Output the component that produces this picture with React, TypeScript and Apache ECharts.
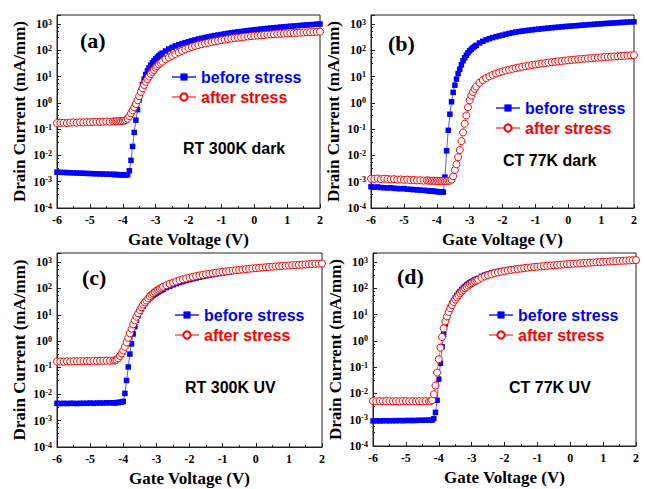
import React, { useEffect, useRef } from 'react';
import * as echarts from 'echarts';

// Gate voltage sweep (V)
const VG_OFF = [-6.0, -5.9, -5.8, -5.7, -5.6, -5.5, -5.4, -5.3, -5.2, -5.1, -5.0, -4.9, -4.8, -4.7, -4.6, -4.5, -4.4, -4.3];
const VG_MID = [-4.25, -4.2, -4.15, -4.1, -4.05, -4.0, -3.95, -3.9, -3.85, -3.8, -3.75, -3.7, -3.65, -3.6, -3.55, -3.5, -3.45, -3.4, -3.35, -3.3, -3.25, -3.2, -3.15, -3.1, -3.05, -3.0, -2.95, -2.9, -2.85, -2.8];
const VG_ON = [-2.7, -2.6, -2.5, -2.4, -2.3, -2.2, -2.1, -2.0, -1.9, -1.8, -1.7, -1.6, -1.5, -1.4, -1.3, -1.2, -1.1, -1.0, -0.9, -0.8, -0.7, -0.6, -0.5, -0.4, -0.3, -0.2, -0.1, 0.0, 0.1, 0.2, 0.3, 0.4, 0.5, 0.6, 0.7, 0.8, 0.9, 1.0, 1.1, 1.2, 1.3, 1.4, 1.5, 1.6, 1.7, 1.8, 1.9, 2.0];
const VG = [...VG_OFF, ...VG_MID, ...VG_ON];

// Drain current (mA/mm)
// (a) RT 300K dark
const aBefore = [
  2.3e-3, 2.28e-3, 2.25e-3, 2.22e-3, 2.2e-3, 2.17e-3, 2.14e-3, 2.12e-3, 2.1e-3, 2.07e-3, 2.05e-3, 2.02e-3, 2.0e-3, 1.98e-3, 1.96e-3, 1.94e-3, 1.92e-3, 1.9e-3,
  1.88e-3, 1.87e-3, 1.86e-3, 1.85e-3, 1.84e-3, 1.83e-3, 1.82e-3, 1.8e-3, 1.85e-3, 2.6e-3, 6.5e-3, 2.2e-2, 7.5e-2, 0.22, 0.55, 1.3, 2.8, 5, 8, 12, 16.5, 21.5, 27, 33, 40, 47, 54, 62, 70, 78,
  94, 112, 129, 146, 163, 179, 195, 211, 230, 249, 268, 287, 306, 325, 344, 363, 382, 400, 421, 440, 461, 480, 500, 521, 540, 560, 581, 600, 620, 641, 660, 680, 701, 720, 740, 761, 780, 800, 820, 841, 860, 880, 901, 920, 940, 960, 980, 1000,
];
const aAfter = [
  0.17, 0.172, 0.175, 0.17, 0.178, 0.18, 0.176, 0.182, 0.18, 0.185, 0.183, 0.187, 0.19, 0.188, 0.192, 0.195, 0.19, 0.196,
  0.195, 0.198, 0.2, 0.2, 0.2, 0.205, 0.21, 0.22, 0.25, 0.31, 0.4, 0.52, 0.68, 0.9, 1.25, 1.8, 2.6, 3.6, 4.8, 6.3, 8, 10, 12.5, 15, 18, 21.5, 25, 29, 33, 37,
  45, 53, 62, 72, 83, 95, 108, 120, 133, 146, 158, 170, 182, 194, 206, 218, 230, 242, 254, 266, 278, 290, 301, 312, 323, 334, 345, 355, 364, 373, 382, 391, 400, 408, 416, 424, 432, 440, 447, 454, 461, 468, 475, 482, 489, 496, 503, 510,
];
// (b) CT 77K dark
const bBefore = [
  6.4e-4, 6.2e-4, 6.3e-4, 6.0e-4, 5.9e-4, 5.8e-4, 5.9e-4, 5.6e-4, 5.5e-4, 5.4e-4, 5.5e-4, 5.2e-4, 5.1e-4, 5.0e-4, 4.9e-4, 4.8e-4, 4.7e-4, 4.6e-4,
  4.5e-4, 4.5e-4, 4.4e-4, 4.3e-4, 4.3e-4, 4.2e-4, 4.2e-4, 4.1e-4, 4.1e-4, 4.0e-4, 1.5e-3, 1.5e-2, 9e-2, 0.37, 1.1, 2.5, 4.7, 8, 13, 19, 28, 40, 52, 65, 80, 95, 110, 125, 140, 155,
  190, 220, 250, 277, 303, 328, 353, 378, 408, 436, 464, 492, 518, 538, 558, 579, 600, 620, 640, 660, 680, 700, 720, 740, 760, 780, 800, 820, 840, 860, 880, 900, 920, 940, 960, 980, 1000, 1020, 1040, 1060, 1080, 1100, 1120, 1140, 1160, 1180, 1200, 1220,
];
const bAfter = [
  1.3e-3, 1.28e-3, 1.32e-3, 1.25e-3, 1.3e-3, 1.27e-3, 1.22e-3, 1.25e-3, 1.2e-3, 1.22e-3, 1.18e-3, 1.2e-3, 1.15e-3, 1.17e-3, 1.12e-3, 1.14e-3, 1.1e-3, 1.12e-3,
  1.1e-3, 1.1e-3, 1.08e-3, 1.1e-3, 1.07e-3, 1.08e-3, 1.06e-3, 1.07e-3, 1.05e-3, 1.06e-3, 1.05e-3, 1.06e-3, 1.08e-3, 1.1e-3, 1.2e-3, 1.6e-3, 2.8e-3, 4.6e-3, 8.5e-3, 1.6e-2, 3.5e-2, 7.5e-2, 0.16, 0.33, 0.68, 1.25, 1.9, 2.6, 3.4, 4.2,
  5.8, 7.3, 8.8, 10.2, 11.6, 13, 14.3, 15.6, 17, 18.3, 19.6, 20.9, 22.2, 23.5, 24.8, 26.1, 27.4, 28.7, 30, 31.3, 32.6, 33.9, 35.2, 36.5, 37.8, 39.1, 40.4, 41.7, 43, 44.2, 45.4, 46.6, 47.8, 49, 50.2, 51.4, 52.6, 53.8, 55, 56.1, 57.2, 58.3, 59.4, 60.5, 61.6, 62.7, 63.8, 65,
];
// (c) RT 300K UV
const cBefore = [
  4.5e-3, 4.4e-3, 4.5e-3, 4.4e-3, 4.5e-3, 4.5e-3, 4.4e-3, 4.5e-3, 4.5e-3, 4.5e-3, 4.6e-3, 4.5e-3, 4.6e-3, 4.6e-3, 4.6e-3, 4.7e-3, 4.7e-3, 4.7e-3,
  4.7e-3, 4.8e-3, 4.8e-3, 4.9e-3, 5.0e-3, 5.3e-3, 1.07e-2, 3.3e-2, 0.107, 0.33, 0.8, 1.9, 3.6, 6.3, 9.5, 13, 17, 21.5, 26.5, 32, 37.5, 43, 49, 55, 61, 67, 73, 80, 87, 94,
  108, 122, 137, 152, 167, 183, 199, 215, 232, 249, 266, 283, 300, 318, 336, 354, 372, 390, 408, 426, 444, 462, 480, 498, 515, 532, 549, 566, 583, 600, 616, 632, 648, 664, 680, 695, 710, 725, 740, 755, 770, 785, 800, 815, 830, 845, 860, 875,
];
const cAfter = [
  0.17, 0.172, 0.17, 0.175, 0.173, 0.176, 0.175, 0.178, 0.177, 0.18, 0.178, 0.181, 0.18, 0.183, 0.182, 0.185, 0.184, 0.187,
  0.19, 0.2, 0.23, 0.28, 0.35, 0.45, 0.62, 0.9, 1.35, 2.0, 3.0, 4.4, 6.2, 8.5, 11.5, 15, 19.5, 24.5, 29.5, 35, 42, 50, 58, 66, 74, 82, 90, 98, 107, 116,
  133, 150, 168, 186, 204, 222, 240, 258, 276, 293, 310, 327, 344, 361, 378, 395, 412, 428, 444, 460, 476, 492, 508, 524, 540, 556, 572, 588, 604, 620, 636, 651, 666, 681, 696, 711, 726, 740, 754, 768, 782, 796, 810, 824, 838, 852, 866, 880,
];
// (d) CT 77K UV
const dBefore = [
  9.0e-4, 9.1e-4, 9.0e-4, 9.1e-4, 9.2e-4, 9.1e-4, 9.2e-4, 9.2e-4, 9.3e-4, 9.2e-4, 9.3e-4, 9.4e-4, 9.3e-4, 9.4e-4, 9.5e-4, 9.5e-4, 9.6e-4, 9.6e-4,
  9.7e-4, 9.8e-4, 1.1e-3, 1.9e-3, 5.5e-3, 3.5e-2, 0.14, 0.6, 1.8, 4.4, 8, 13, 19, 26, 34, 43, 53, 64, 76, 89, 103, 118, 133, 148, 163, 178, 193, 208, 223, 238,
  285, 318, 350, 380, 408, 435, 460, 484, 507, 529, 550, 571, 591, 611, 630, 649, 667, 685, 703, 720, 737, 754, 771, 787, 803, 819, 835, 851, 867, 882, 897, 912, 927, 942, 957, 972, 987, 1002, 1017, 1032, 1047, 1062, 1077, 1092, 1107, 1122, 1137, 1152,
];
const dAfter = [
  5.1e-3, 5.0e-3, 5.1e-3, 5.0e-3, 5.1e-3, 5.1e-3, 5.0e-3, 5.1e-3, 5.0e-3, 5.1e-3, 5.1e-3, 5.0e-3, 5.1e-3, 5.0e-3, 5.1e-3, 5.0e-3, 5.1e-3, 5.0e-3,
  5.1e-3, 5.5e-3, 9.3e-3, 2.0e-2, 6.2e-2, 0.2, 0.55, 1.4, 3.0, 5.5, 8.5, 12.5, 17.5, 23, 30, 37, 45, 54, 64, 75, 87, 100, 113, 127, 141, 155, 169, 183, 197, 211,
  250, 282, 313, 343, 372, 400, 427, 452, 476, 499, 521, 542, 563, 583, 603, 623, 642, 661, 680, 699, 717, 735, 753, 771, 789, 807, 825, 843, 860, 877, 894, 911, 928, 945, 962, 979, 996, 1013, 1030, 1047, 1064, 1081, 1098, 1115, 1132, 1149, 1166, 1183,
];

const PANEL_LABELS = ['(a)', '(b)', '(c)', '(d)'];
const CONDITIONS = ['RT 300K dark', 'CT 77K dark', 'RT 300K UV', 'CT 77K UV'];
const BEFORE = [aBefore, bBefore, cBefore, dBefore];
const AFTER = [aAfter, bAfter, cAfter, dAfter];
const SERIES_NAMES = ['before stress', 'after stress'];
const X_TITLE = 'Gate Voltage (V)';
const Y_TITLE = 'Drain Current (mA/mm)';

const SERIF = '"Liberation Serif", "Times New Roman", Times, serif';
const SANS = '"Liberation Sans", Arial, Helvetica, sans-serif';
const BLUE = '#0000ff';
const RED = '#ff0000';

// layout
const GRIDS = [
  { left: 57, top: 15, width: 263, height: 193 },
  { left: 371, top: 15, width: 263, height: 193 },
  { left: 57, top: 253, width: 265, height: 194 },
  { left: 373, top: 253, width: 263, height: 193 },
];
const LEGEND_POS = [
  { left: 171, top: 69 },
  { left: 495, top: 100 },
  { left: 174, top: 307 },
  { left: 488, top: 307 },
];
const LABEL_POS = [
  { x: 80, y: 40 },
  { x: 388, y: 43 },
  { x: 82, y: 277 },
  { x: 397, y: 276 },
];
const COND_POS = [
  { x: 183, y: 148 },
  { x: 503, y: 160 },
  { x: 185, y: 387 },
  { x: 509, y: 387 },
];

function logLabel(v: number) {
  const e = Math.log10(v);
  const r = Math.round(e);
  if (Math.abs(e - r) > 1e-6) return '';
  return '{b|10}{s|' + r + '}';
}

function buildOption() {
  const grid = GRIDS.map((g) => ({
    ...g,
    show: true,
    borderColor: '#222',
    borderWidth: 1,
    backgroundColor: 'transparent',
  }));
  const xAxis = GRIDS.map((_, i) => ({
    type: 'value',
    gridIndex: i,
    min: -6,
    max: 2,
    interval: 1,
    name: X_TITLE,
    nameLocation: 'middle',
    nameGap: 23,
    nameTextStyle: { fontFamily: SERIF, fontWeight: 'bold', fontSize: 17, color: '#000' },
    axisLine: { show: true, onZero: false, lineStyle: { color: '#222', width: 1 } },
    axisTick: { show: true, inside: true, length: 4, lineStyle: { color: '#222' } },
    minorTick: { show: true, splitNumber: 2, length: 2, lineStyle: { color: '#222' } },
    splitLine: { show: false },
    axisLabel: { fontFamily: SERIF, fontWeight: 'bold', fontSize: 12, color: '#000', margin: 6 },
  }));
  const yAxis = GRIDS.map((_, i) => ({
    type: 'log',
    logBase: 10,
    gridIndex: i,
    min: 1e-4,
    max: 2200,
    splitNumber: 8,
    name: Y_TITLE,
    nameLocation: 'middle',
    nameGap: 29,
    nameTextStyle: { fontFamily: SERIF, fontWeight: 'bold', fontSize: 17, color: '#000' },
    axisLine: { show: true, onZero: false, lineStyle: { color: '#222', width: 1 } },
    axisTick: { show: true, inside: true, length: 4, lineStyle: { color: '#222' } },
    minorTick: { show: true, splitNumber: 4, length: 2, lineStyle: { color: '#222' } },
    splitLine: { show: false },
    axisLabel: {
      margin: 5,
      formatter: logLabel,
      rich: {
        b: { fontFamily: SERIF, fontWeight: 'bold', fontSize: 12, color: '#000' },
        s: { fontFamily: SERIF, fontWeight: 'bold', fontSize: 8, color: '#000', verticalAlign: 'top' },
      },
    },
  }));
  const series: any[] = [];
  GRIDS.forEach((_, i) => {
    series.push({
      type: 'line',
      name: SERIES_NAMES[0],
      xAxisIndex: i,
      yAxisIndex: i,
      data: VG.map((v, k) => [v, BEFORE[i][k]]),
      symbol: 'rect',
      symbolSize: 5.5,
      itemStyle: { color: BLUE },
      lineStyle: { color: '#5a5aff', width: 1 },
      emphasis: { disabled: true },
      z: 2,
    });
    series.push({
      type: 'line',
      name: SERIES_NAMES[1],
      xAxisIndex: i,
      yAxisIndex: i,
      data: VG.map((v, k) => [v, AFTER[i][k]]),
      symbol: 'circle',
      symbolSize: 7,
      itemStyle: { color: '#ffffff', borderColor: RED, borderWidth: 1 },
      lineStyle: { color: '#ff7a7a', width: 1 },
      emphasis: { disabled: true },
      z: 3,
    });
  });
  const legend = LEGEND_POS.map((p) => ({
    ...p,
    orient: 'vertical',
    padding: 0,
    itemWidth: 24,
    itemHeight: 9,
    itemGap: 4,
    selectedMode: false,
    textStyle: { fontFamily: SANS, fontWeight: 'bold', fontSize: 16 },
    data: [
      { name: SERIES_NAMES[0], textStyle: { color: BLUE } },
      { name: SERIES_NAMES[1], textStyle: { color: RED } },
    ],
  }));
  const graphic: any[] = [];
  PANEL_LABELS.forEach((t, i) => {
    graphic.push({
      type: 'text',
      x: LABEL_POS[i].x,
      y: LABEL_POS[i].y,
      style: { text: t, font: 'bold 22px ' + SERIF, fill: '#000', verticalAlign: 'middle', align: 'left' },
    });
    graphic.push({
      type: 'text',
      x: COND_POS[i].x,
      y: COND_POS[i].y,
      style: { text: CONDITIONS[i], font: 'bold 16px ' + SANS, fill: '#000', verticalAlign: 'middle', align: 'left' },
    });
  });
  return {
    animation: false,
    backgroundColor: '#ffffff',
    grid,
    xAxis,
    yAxis,
    legend,
    series,
    graphic,
  };
}

export default function App() {
  const ref = useRef<HTMLDivElement>(null);
  useEffect(() => {
    if (!ref.current) return;
    const chart = echarts.init(ref.current, null, { renderer: 'svg' });
    chart.setOption(buildOption() as any);
    return () => chart.dispose();
  }, []);
  return (
    <div
      ref={ref}
      style={{ position: 'absolute', left: 0, top: 0, width: 645, height: 489, background: '#fff' }}
    />
  );
}
